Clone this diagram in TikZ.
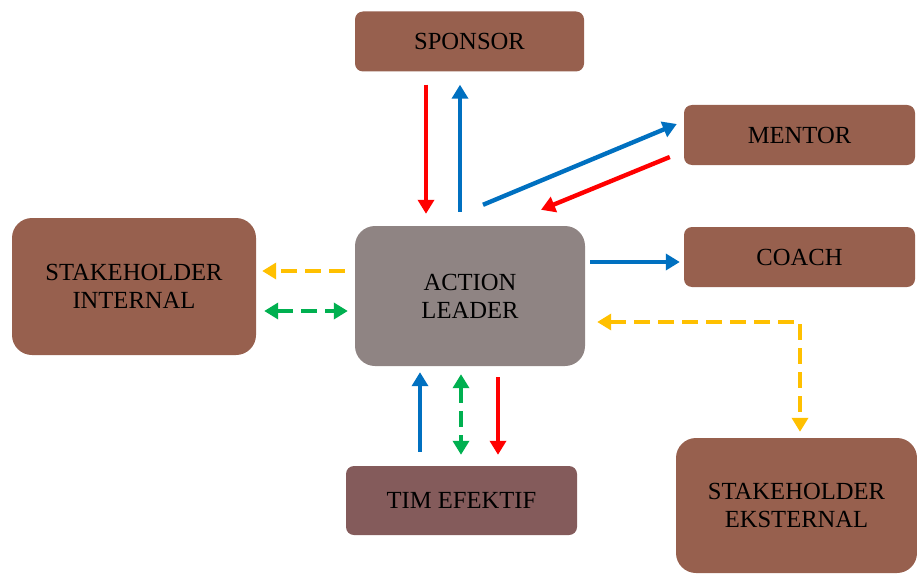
\documentclass[tikz,border=0pt]{standalone}
\usepackage{fontspec}
\setmainfont{Liberation Serif}
\usetikzlibrary{arrows.meta}
\definecolor{boxbrown}{HTML}{97604E}
\definecolor{leadgray}{HTML}{8F8483}
\definecolor{timbrown}{HTML}{845B5B}
\definecolor{cblue}{HTML}{0070C0}
\definecolor{cred}{HTML}{FF0000}
\definecolor{cgreen}{HTML}{00B050}
\definecolor{cyellow}{HTML}{FFC000}
\tikzset{
  box/.style={draw=none, fill=boxbrown, inner sep=0pt, align=center,
    font=\fontsize{24.6}{28}\selectfont, text=black},
  smallbox/.style={box, rounded corners=8pt},
  bigbox/.style={box, rounded corners=20pt},
  conn/.style={line width=4.4pt, -{Triangle[length=14pt,width=16pt]}},
  dconn/.style={conn, {Triangle[length=14pt,width=16pt]}-{Triangle[length=14pt,width=16pt]}},
  dashline/.style={dash pattern=on 16pt off 8pt},
}
\begin{document}
\begin{tikzpicture}[x=1pt,y=-1pt]
\useasboundingbox (0,0) rectangle (917,575);
\node[smallbox, minimum width=229pt, minimum height=60pt] (sponsor) at (469.5,41.5) {SPONSOR};
\node[smallbox, minimum width=231pt, minimum height=60pt] (mentor) at (799.5,135) {MENTOR};
\node[smallbox, minimum width=231pt, minimum height=60pt] (coach) at (799.5,257) {COACH};
\node[bigbox, minimum width=244pt, minimum height=137pt] (si) at (134,286.5) {STAKEHOLDER\\INTERNAL};
\node[bigbox, fill=leadgray, minimum width=230pt, minimum height=140pt] (leader) at (470,296) {ACTION\\LEADER};
\node[smallbox, fill=timbrown, minimum width=231pt, minimum height=69pt] (tim) at (461.5,500.5) {TIM EFEKTIF};
\node[bigbox, minimum width=241pt, minimum height=135pt] (se) at (796.5,505.5) {STAKEHOLDER\\EKSTERNAL};

% sponsor
\draw[conn, cred] ([shift={(-43.5,13)}]sponsor.south) -- ([shift={(-44,-12)}]leader.north);
\draw[conn, cblue] ([shift={(-10,-14)}]leader.north) -- ([shift={(-9.5,13)}]sponsor.south);
% mentor
\draw[conn, cblue] ([shift={(13,-21)}]leader.north) -- ([shift={(-7,-11)}]mentor.west);
\draw[conn, cred] ([shift={(-14,22)}]mentor.west) -- ([shift={(71,-16)}]leader.north);
% coach
\draw[conn, cblue] ([shift={(5,-34)}]leader.east) -- ([shift={(-4,5)}]coach.west);
% stakeholder internal
\draw[conn, cyellow, dashline] ([shift={(-10,-25)}]leader.west) -- ([shift={(6,-15.5)}]si.east);
\draw[dconn, cgreen, dashline] ([shift={(8,24.5)}]si.east) -- ([shift={(-7,15)}]leader.west);
% tim efektif
\draw[conn, cblue] ([shift={(-41.5,-14)}]tim.north) -- ([shift={(-50,6)}]leader.south);
\draw[dconn, cgreen, dashline] ([shift={(-9,8)}]leader.south) -- ([shift={(-0.5,-11)}]tim.north);
\draw[conn, cred] ([shift={(28,11)}]leader.south) -- ([shift={(36.5,-11)}]tim.north);
% stakeholder eksternal
\draw[dconn, cyellow, dashline] ([shift={(12,26)}]leader.east) -| ([shift={(3.5,-6)}]se.north);
\end{tikzpicture}
\end{document}
